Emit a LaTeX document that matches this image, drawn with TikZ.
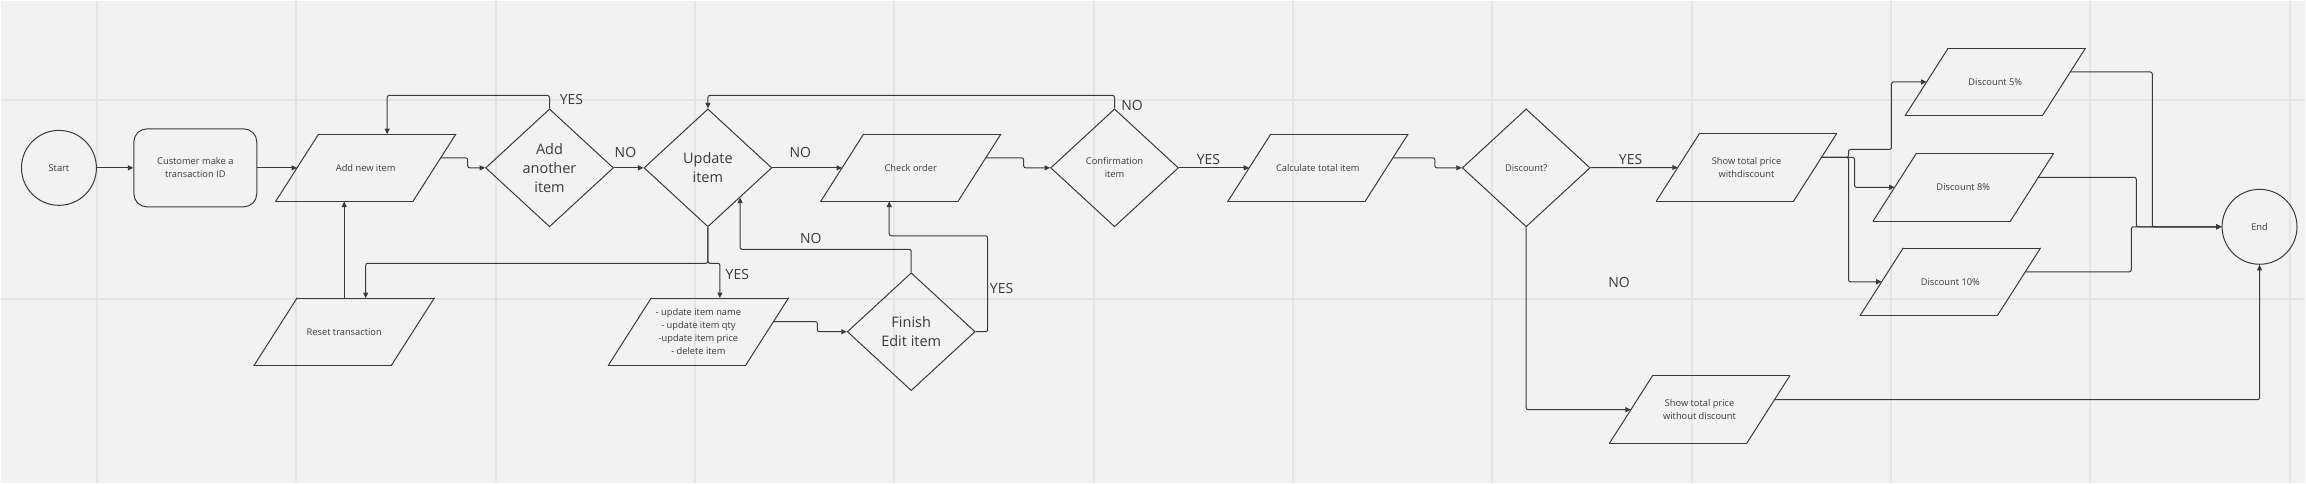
\documentclass[tikz,border=0pt]{standalone}
\usepackage{fontspec}
\setmainfont{Open Sans}
\usetikzlibrary{shapes.geometric,arrows.meta,calc}
\definecolor{canvas}{HTML}{F2F2F2}
\definecolor{gridline}{HTML}{E4E4E4}
\definecolor{ink}{HTML}{3A3A3A}

\begin{document}
\begin{tikzpicture}[x=1pt, y=-1pt,
        font=\fontsize{9.3}{13}\selectfont, text=ink,
        every node/.style={align=center},
        terminal/.style={circle, draw=ink, line width=1pt, minimum size=75pt, inner sep=0pt},
        process/.style={rectangle, rounded corners=13pt, draw=ink, line width=1pt,
            minimum width=123pt, minimum height=78pt},
        ioline/.style={draw=ink, line width=1pt, line cap=round},
        io/.style={rectangle, minimum width=137pt, minimum height=67pt, inner sep=1pt,
            append after command={\pgfextra{\let\ionode\tikzlastnode}
                ([xshift=21.5pt]\ionode.north west) edge[ioline] ([xshift=21.5pt]\ionode.north east)
                ([xshift=21.5pt]\ionode.north east) edge[ioline] ([xshift=-21.5pt]\ionode.south east)
                ([xshift=-21.5pt]\ionode.south east) edge[ioline] ([xshift=-21.5pt]\ionode.south west)
                ([xshift=-21.5pt]\ionode.south west) edge[ioline] ([xshift=21.5pt]\ionode.north west)}},
        decision/.style={diamond, draw=ink, line width=1pt, minimum width=128pt,
            minimum height=118pt, inner sep=0pt, font=\fontsize{14.5}{19}\selectfont},
        decisionsmall/.style={decision, font=\fontsize{9.3}{13}\selectfont},
        lbl/.style={inner sep=0pt, font=\fontsize{14}{17}\selectfont},
        arr/.style={draw=ink, line width=1pt, rounded corners=2pt,
            -{Triangle[length=5.5pt,width=5pt]}}
    ]
        % Setup the canvas
        \fill[canvas] (0,0) rectangle (2306,482);
        \foreach \gx in {0,...,11}
            \draw[gridline, line width=2pt] (96+199.5*\gx,0) -- (96+199.5*\gx,482);
        \foreach \gy in {99,298.5}
            \draw[gridline, line width=2pt] (0,\gy) -- (2306,\gy);
        \useasboundingbox (0,0) rectangle (2306,482);

        % Main row
        \node[terminal] (start) at (58,167) {Start};
        \node[process] (cust) at (194.5,167) {Customer make a\\transaction ID};
        \node[io] (add) at (365,167) {Add new item};
        \node[decision] (another) at (549,167) {Add\\another\\item};
        \node[decision] (update) at (707.5,167) {Update\\item};
        \node[io] (check) at (910.5,167) {Check order};
        \node[decisionsmall] (conf) at (1114.5,167) {Confirmation\\item};
        \node[io] (calc) at (1318,167) {Calculate total item};
        \node[decisionsmall] (disc) at (1526.5,167) {Discount?};
        \node[io] (withd) at (1747,166.5) {Show total price\\withdiscount};

        % Lower row
        \node[io] (reset) at (343.5,331) {Reset transaction};
        \node[io] (list) at (698,331) {- update item name\\- update item qty\\-update item price\\- delete item};
        \node[decision] (finish) at (911,331) {Finish\\Edit item};
        \node[io] (without) at (1700,409) {Show total price\\without discount};

        % Discount options
        \node[io] (d5) at (1996,81) {Discount 5\%};
        \node[io] (d8) at (1964,186.5) {Discount 8\%};
        \node[io] (d10) at (1951,281) {Discount 10\%};
        \node[terminal] (end) at (2260.5,226) {End};

        % Labels
        \node[lbl] (yesAdd) at (571,98.5) {YES};
        \node[lbl] (noAdd) at (625,151.5) {NO};
        \node[lbl] (noUpd) at (800,151.5) {NO};
        \node[lbl] (yesUpd) at (737,274) {YES};
        \node[lbl] (noFin) at (810.5,238) {NO};
        \node[lbl] (yesFin) at (1001.5,288) {YES};
        \node[lbl] (noConf) at (1132,105) {NO};
        \node[lbl] (yesConf) at (1208.5,158.5) {YES};
        \node[lbl] (yesDisc) at (1631,158.5) {YES};
        \node[lbl] (noDisc) at (1619.5,281.5) {NO};

        % Connectors
        \draw[arr] (start) -- (cust);
        \draw[arr] (cust) -- (add);
        \draw[arr] ([shift={(6.4,-10)}]add.east) -- ++(27,0) |- (another);
        \draw[arr] (another.north) -- ++(0,-13) -| ([xshift=21.5pt]add.north);
        \draw[arr] (another) -- (update);
        \draw[arr] (update) -- (check);
        \draw[arr] (update.south) -- ++(0,36) -| ([xshift=21.5pt]reset.north);
        \draw[arr] (update.south) -- ++(0,36) -| ([xshift=21.5pt]list.north);
        \draw[arr] (reset.north) -- ([xshift=-21.5pt]add.south);
        \draw[arr] ([shift={(6.4,-10)}]list.east) -- ++(44,0) |- (finish);
        \draw[arr] (finish.north) -- ++(0,-23) -| ($(update.south)!.5!(update.east)$);
        \draw[arr] (finish.east) -- ++(12,0) -- ++(0,-96) -| ([xshift=-21.5pt]check.south);
        \draw[arr] ([shift={(6.4,-10)}]check.east) -- ++(38,0) |- (conf);
        \draw[arr] (conf.north) -- ++(0,-13) -| (update.north);
        \draw[arr] (conf) -- (calc);
        \draw[arr] ([shift={(6.4,-10)}]calc.east) -- ++(42,0) |- (disc);
        \draw[arr] (disc) -- (withd);
        \draw[arr] (disc.south) |- (without);
        \draw[arr] ([shift={(6.4,-10)}]withd.east) -- ++(27,0) -- ++(0,-8) -- ++(43,0) |- (d5);
        \draw[arr] ([shift={(6.4,-10)}]withd.east) -- ++(33,0) |- (d8);
        \draw[arr] ([shift={(6.4,-10)}]withd.east) -- ++(27,0) |- (d10);
        \draw[arr] ([shift={(6.4,-10)}]d5.east) -- ++(82,0) |- (end);
        \draw[arr] ([shift={(6.4,-10)}]d8.east) -- ++(98,0) |- (end);
        \draw[arr] ([shift={(6.4,-10)}]d10.east) -- ++(106,0) |- (end);
        \draw[arr] ([shift={(6.4,-10)}]without.east) -| (end);
\end{tikzpicture}
\end{document}
